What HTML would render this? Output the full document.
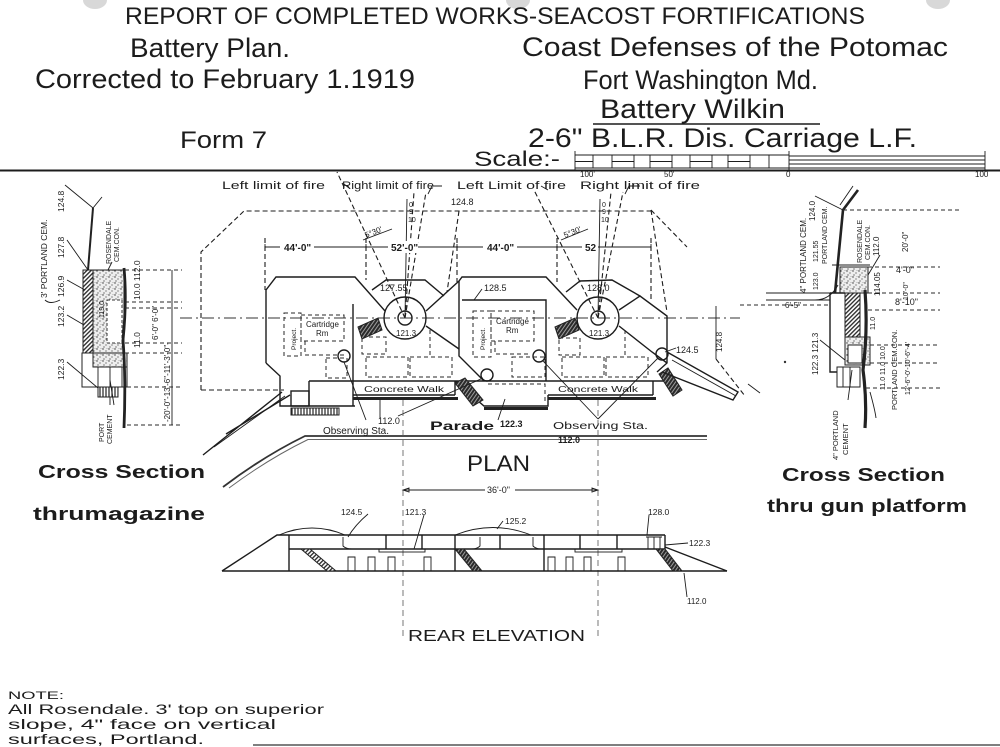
<!DOCTYPE html>
<html><head><meta charset="utf-8">
<style>
html,body{margin:0;padding:0;background:#fff;}
svg{display:block}
text{font-family:"Liberation Sans",sans-serif;fill:#1c1c1c}
.s{stroke:#1c1c1c;fill:none;stroke-width:1.4}
.t{stroke:#1c1c1c;fill:none;stroke-width:0.9}
.d{stroke:#1c1c1c;fill:none;stroke-width:1.1;stroke-dasharray:5 3}
.dd{stroke:#2a2a2a;fill:none;stroke-width:1;stroke-dasharray:4 3}
.k{stroke:#1c1c1c;fill:none;stroke-width:2.6}
</style></head><body>
<svg width="1000" height="747" viewBox="0 0 1000 747" xmlns="http://www.w3.org/2000/svg">
<defs>
<pattern id="hatch" width="3" height="3" patternUnits="userSpaceOnUse" patternTransform="rotate(45)"><rect width="3" height="3" fill="#fff"/><line x1="0.7" y1="0" x2="0.7" y2="3" stroke="#222" stroke-width="1.3"/></pattern>
<pattern id="dark" width="3" height="3" patternUnits="userSpaceOnUse" patternTransform="rotate(35)"><rect width="3" height="3" fill="#2a2a2a"/><line x1="1.5" y1="0" x2="1.5" y2="3" stroke="#bbb" stroke-width="0.8"/></pattern>
<pattern id="stip" width="6" height="6" patternUnits="userSpaceOnUse"><rect width="6" height="6" fill="#eee"/><circle cx="1" cy="1" r="0.7" fill="#333"/><circle cx="4" cy="3" r="0.6" fill="#444"/><circle cx="2" cy="5" r="0.6" fill="#333"/><circle cx="5" cy="0.5" r="0.4" fill="#555"/></pattern>
<pattern id="vl" width="3" height="10" patternUnits="userSpaceOnUse"><rect width="3" height="10" fill="#fff"/><line x1="1" y1="0" x2="1" y2="10" stroke="#222" stroke-width="1.2"/></pattern>
</defs>
<rect width="1000" height="747" fill="#fff"/>
<!-- punch holes -->
<ellipse cx="95" cy="0" rx="12" ry="9" fill="#d8d8d8"/>
<ellipse cx="518" cy="0" rx="12" ry="9" fill="#d8d8d8"/>
<ellipse cx="938" cy="0" rx="12" ry="9" fill="#d8d8d8"/>

<!-- HEADER -->
<text x="125" y="24" font-size="24" textLength="740" lengthAdjust="spacingAndGlyphs">REPORT OF COMPLETED WORKS-SEACOST FORTIFICATIONS</text>
<text x="130" y="57" font-size="27" textLength="160" lengthAdjust="spacingAndGlyphs">Battery Plan.</text>
<text x="35" y="88" font-size="27" textLength="380" lengthAdjust="spacingAndGlyphs">Corrected to February 1.1919</text>
<text x="522" y="56" font-size="27" textLength="426" lengthAdjust="spacingAndGlyphs">Coast Defenses of the Potomac</text>
<text x="583" y="89" font-size="27" textLength="235" lengthAdjust="spacingAndGlyphs">Fort Washington Md.</text>
<text x="600" y="118" font-size="27" textLength="185" lengthAdjust="spacingAndGlyphs">Battery Wilkin</text>
<line x1="593" y1="124" x2="820" y2="124" class="s" stroke-width="1.6"/>
<text x="180" y="148" font-size="24" textLength="87" lengthAdjust="spacingAndGlyphs">Form 7</text>
<text x="528" y="147" font-size="27" textLength="389" lengthAdjust="spacingAndGlyphs">2-6" B.L.R. Dis. Carriage L.F.</text>
<text x="474" y="166" font-size="21" textLength="86" lengthAdjust="spacingAndGlyphs">Scale:-</text>

<!-- scale bar -->
<g class="t" stroke-width="1">
<path d="M575,155 H789 M575,168 H789 M575,151 V170 M789,151 V170"/>
<path d="M575,161.5 H593 M612,161.5 H634 M650,161.5 H672 M690,161.5 H712 M728,161.5 H750"/>
<path d="M593,155 V168 M612,155 V168 M634,155 V168 M650,155 V168 M672,155 V168 M690,155 V168 M712,155 V168 M728,155 V168 M750,155 V168 M769,155 V168"/>
<path d="M789,156 H985 M789,160 H985 M789,164 H985 M789,168 H985 M985,151 V170"/>
</g>
<text x="580" y="177" font-size="8">100'</text>
<text x="664" y="177" font-size="8">50'</text>
<text x="786" y="177" font-size="8">0</text>
<text x="975" y="177" font-size="8">100</text>
<line x1="0" y1="170.5" x2="1000" y2="170.5" stroke="#1c1c1c" stroke-width="2"/>

<!-- ============ PLAN ============ -->
<!-- limit of fire labels -->
<text x="222" y="189" font-size="11" textLength="103" lengthAdjust="spacingAndGlyphs">Left limit of fire</text>
<text x="342" y="189" font-size="11" textLength="92" lengthAdjust="spacingAndGlyphs">Right limit of fire</text>
<text x="457" y="189" font-size="11" textLength="109" lengthAdjust="spacingAndGlyphs">Left Limit of fire</text>
<text x="580" y="189" font-size="11" textLength="120" lengthAdjust="spacingAndGlyphs">Right limit of fire</text>
<text x="451" y="205" font-size="9">124.8</text>

<!-- fire lines -->
<g class="d">
<path d="M405,318 L337,172"/>
<path d="M405,318 L426,192"/>
<path d="M405,318 L414,192"/>
<path d="M459,211 L447,292"/>
<path d="M598,318 L534,190"/>
<path d="M598,318 L623,192"/>
<path d="M598,318 L611,192"/>
</g>
<path class="t" d="M407,199 L405,318 M600,199 L598,318"/>
<path class="t" d="M428,194 L432,186 L442,186 M625,194 L629,186 L640,186 M344,184 L349,188 M541,186 L548,190"/>
<text x="409" y="207" font-size="7">0</text><text x="409" y="214" font-size="7">9</text><text x="408" y="222" font-size="7">10</text>
<text x="602" y="207" font-size="7">0</text><text x="602" y="214" font-size="7">9</text><text x="601" y="222" font-size="7">10</text>
<text x="366" y="238" font-size="8" transform="rotate(-22 366 238)">5°30'</text>
<text x="565" y="238" font-size="8" transform="rotate(-22 565 238)">5°30'</text>
<path class="t" d="M363,240 L392,229 M561,240 L588,229"/>

<!-- outer dashed envelope -->
<g class="d">
<path d="M201,390 L201,252 L244,211 L651,211"/>
<path d="M651,210 L687,247"/>
<path d="M651,210 L667,312"/>
<path d="M716,359 L745,396"/>
<path d="M201,390 L284,390"/>
<path d="M265,238 V290 M366,238 V280 M457,238 V282 M557,238 V282 M651,238 V300"/>
</g>
<!-- centerline -->
<path d="M180,318 H740" stroke="#333" stroke-width="0.9" stroke-dasharray="12 4 2 4" fill="none"/>

<!-- dimension line -->
<path class="t" d="M265,247 H651"/>
<path class="t" d="M265,244 V250 M366,244 V250 M457,244 V250 M557,244 V250 M651,244 V250"/>
<rect x="280" y="241" width="34" height="12" fill="#fff"/>
<rect x="388" y="241" width="30" height="12" fill="#fff"/>
<rect x="483" y="241" width="34" height="12" fill="#fff"/>
<rect x="582" y="241" width="16" height="12" fill="#fff"/>
<text x="284" y="251" font-size="10" font-weight="bold">44'-0"</text>
<text x="391" y="251" font-size="10" font-weight="bold">52'-0"</text>
<text x="487" y="251" font-size="10" font-weight="bold">44'-0"</text>
<text x="585" y="251" font-size="10" font-weight="bold">52</text>

<!-- main solid outlines -->
<g class="s">
<path d="M266,363 L266,290 L276,277 L355,277 L385,311"/>
<path d="M426,311 L459,281 L462,277 L546,277 L577,310"/>
<path d="M619,310 L640,296 L667,316 L667,363 L657,372"/>
<path d="M372,290 L386,280 L425,280 L444,296"/>
<path d="M566,292 L580,281 L612,280 L640,296"/>
<path d="M266,363 L280,376 L280,406 L355,406"/>
<path d="M309,381 V406 M309,381 H667 M353,304 V406"/>
<path d="M459,281 V356 L484,381"/>
<path d="M462,300 H546 V381"/>
<path d="M426,326 L459,349"/>
<path d="M619,326 L652,352 L667,363"/>
<path d="M455,381 L484,406 L548,406 L548,395"/>
<path d="M353,395 H455 M548,395 H653 M653,381 V395 M455,381 V395"/>
<circle cx="405" cy="318" r="21"/>
<circle cx="405" cy="318" r="7"/>
<circle cx="598" cy="318" r="21"/>
<circle cx="598" cy="318" r="7"/>
<circle cx="344" cy="356" r="6"/>
<circle cx="487" cy="375" r="6"/>
<circle cx="539" cy="356" r="6"/>
<circle cx="662" cy="354" r="6"/>
</g>
<rect x="291" y="391" width="18" height="15" class="s" fill="#fff"/>
<rect x="291" y="408" width="48" height="7" fill="url(#vl)" stroke="#222" stroke-width="1"/>
<path d="M353,398.5 H458 M548,398.5 H656 M484,408.5 H548" stroke="#222" stroke-width="3" fill="none"/>
<text x="364" y="392" font-size="8.5" textLength="80" lengthAdjust="spacingAndGlyphs">Concrete Walk</text>
<text x="558" y="392" font-size="8.5" textLength="80" lengthAdjust="spacingAndGlyphs">Concrete Walk</text>

<!-- dashed rooms -->
<g class="dd">
<rect x="284" y="313" width="17" height="43"/>
<rect x="301" y="315" width="43" height="26"/>
<path d="M305,341 V355 H345"/>
<rect x="326" y="358" width="21" height="20"/>
<rect x="362" y="337" width="24" height="17"/>
<rect x="366" y="357" width="42" height="20"/>
<rect x="410" y="357" width="42" height="20"/>
<rect x="473" y="311" width="18" height="46"/>
<rect x="491" y="311" width="43" height="30"/>
<path d="M495,341 V354 H530"/>
<rect x="512" y="357" width="33" height="20"/>
<rect x="559" y="338" width="21" height="17"/>
<rect x="562" y="357" width="42" height="20"/>
<rect x="606" y="357" width="42" height="20"/>
<path d="M488,384 H545 V404"/>
<path d="M430,330 V357 M625,330 V357"/>
</g>
<text x="306" y="327" font-size="8">Cartridge</text>
<text x="316" y="336" font-size="8">Rm</text>
<text x="496" y="324" font-size="8">Cartridge</text>
<text x="506" y="333" font-size="8">Rm</text>
<text x="296" y="350" font-size="6.5" transform="rotate(-90 296 350)">Project.</text>
<text x="485" y="350" font-size="6.5" transform="rotate(-90 485 350)">Project.</text>

<!-- stairs hatched -->
<polygon points="358,327 378,318 382,330 362,339" fill="url(#dark)" stroke="#222"/>
<polygon points="555,327 575,318 579,330 559,339" fill="url(#dark)" stroke="#222"/>
<polygon points="455,383 465,378 483,400 473,406" fill="url(#dark)" stroke="#222"/>
<polygon points="659,374 668,368 682,390 673,396" fill="url(#dark)" stroke="#222"/>
<!-- right ramp -->
<path class="s" d="M667,352 L738,392 L733,400 L662,372"/>
<path class="t" d="M672,360 L736,396"/>
<!-- left ramp and parade -->
<path class="s" d="M282,392 L203,455 M290,395 L226,434"/>
<path class="t" d="M285,396 L214,447"/>
<path d="M223,487 Q264,456 305,436 L707,436" stroke="#333" stroke-width="1.8" fill="none"/>
<path d="M229,488 Q268,459 308,439.5 L707,439.5" stroke="#666" stroke-width="1" fill="none"/>

<!-- right dim -->
<path class="t" d="M716,306 V359"/>
<text x="722" y="352" font-size="8" transform="rotate(-90 722 352)">124.8</text>
<text x="676" y="353" font-size="9">124.5</text>
<path class="t" d="M665,352 L676,348"/>

<!-- plan labels -->
<text x="380" y="291" font-size="9">127.55</text>
<text x="484" y="291" font-size="9">128.5</text>
<text x="587" y="291" font-size="9">128.0</text>
<text x="396" y="336" font-size="8">121.3</text>
<text x="589" y="336" font-size="8">121.3</text>
<path class="t" d="M482,289 L474,300 M602,284 L598,296"/>
<text x="378" y="424" font-size="9">112.0</text>
<text x="323" y="434" font-size="10" textLength="66" lengthAdjust="spacingAndGlyphs">Observing Sta.</text>
<text x="430" y="430" font-size="12" font-weight="bold" textLength="64" lengthAdjust="spacingAndGlyphs">Parade</text>
<text x="500" y="427" font-size="9" font-weight="bold">122.3</text>
<text x="553" y="429" font-size="10" textLength="95" lengthAdjust="spacingAndGlyphs">Observing Sta.</text>
<text x="558" y="443" font-size="9" font-weight="bold">112.0</text>
<g class="t">
<path d="M366,420 L344,362"/>
<path d="M380,418 V399"/>
<path d="M398,416 L483,378"/>
<path d="M498,420 L505,399"/>
<path d="M598,419 L543,361 M598,419 L658,358"/>
</g>
<text x="467" y="471" font-size="22" textLength="63" lengthAdjust="spacingAndGlyphs">PLAN</text>

<!-- center dashed verticals -->
<path d="M403,400 V640 M598,400 V640" stroke="#555" stroke-width="0.8" stroke-dasharray="6 4" fill="none"/>

<!-- ============ REAR ELEVATION ============ -->
<path class="t" d="M403,490 H598 M403,490 l6,-2 v4 z M598,490 l-6,-2 v4 z"/>
<rect x="485" y="484" width="30" height="11" fill="#fff"/>
<text x="487" y="493" font-size="9">36'-0"</text>
<g class="s">
<path d="M222,571 H727"/>
<path d="M222,571 L277,535 H665 M289,549 H665 M665,547 L727,571"/>
<path d="M289,535 V571 M455,535 V571 M544,535 V571 M665,535 V549"/>
<path d="M386,535 V549 M422,535 V549 M500,535 V549 M580,535 V549 M617,535 V549"/>
</g>
<path class="t" d="M279,535 Q312,521 345,535 M455,535 Q493,520 531,535"/>
<path class="t" d="M343,537 V546 Q346,549 352,549 M480,537 V546 Q477,549 472,549 M533,537 V546 Q536,549 541,549 M648,537 V549 M654,537 V549 M660,537 V549 M646,537 H662"/>
<g class="t" stroke-width="1.1">
<path d="M348,571 V557 H355 V571 M368,571 V557 H375 V571 M388,571 V557 H395 V571 M424,571 V557 H431 V571"/>
<path d="M548,571 V557 H555 V571 M566,571 V557 H573 V571 M584,571 V557 H591 V571 M618,571 V557 H625 V571"/>
</g>
<rect x="379" y="549" width="46" height="3" class="t"/>
<rect x="575" y="549" width="47" height="3" class="t"/>
<polygon points="301,549 310,549 336,571 327,571" fill="url(#hatch)" stroke="#222"/>
<polygon points="455,549 464,549 482,571 473,571" fill="url(#dark)" stroke="#222"/>
<polygon points="656,549 665,549 682,571 673,571" fill="url(#dark)" stroke="#222"/>
<text x="341" y="515" font-size="8.5">124.5</text>
<text x="405" y="515" font-size="8.5">121.3</text>
<text x="505" y="524" font-size="8.5">125.2</text>
<text x="648" y="515" font-size="8.5">128.0</text>
<text x="689" y="546" font-size="8.5">122.3</text>
<text x="687" y="604" font-size="8">112.0</text>
<path class="t" d="M368,514 Q355,525 348,537 M424,515 L414,549 M503,521 L497,529 M649,515 L647,535 M688,543 L665,545 M687,597 L684,573"/>
<text x="408" y="641" font-size="16" textLength="177" lengthAdjust="spacingAndGlyphs">REAR ELEVATION</text>

<!-- ============ LEFT CROSS SECTION ============ -->
<path class="t" d="M65,185 L93,208 L102,197"/>
<path d="M93,208 L88,270" stroke="#222" stroke-width="2" fill="none"/>
<rect x="83" y="270" width="10" height="83" fill="url(#hatch)" stroke="#222"/>
<rect x="93" y="270" width="31" height="83" fill="url(#stip)" stroke="#222"/>
<rect x="107" y="300" width="15" height="43" fill="#fff" stroke="#333" stroke-dasharray="3 2"/>
<rect x="82" y="353" width="45" height="34" fill="#fff" stroke="#222"/>
<rect x="93" y="353" width="34" height="14" fill="url(#stip)" stroke="#222"/>
<path class="t" d="M98,367 V387 M122,367 V387 M110,367 V405"/>
<rect x="98" y="387" width="20" height="10" fill="url(#vl)" stroke="#222"/>
<path d="M124,268 Q127,300 123,340 Q126,380 124,428" stroke="#222" stroke-width="2.8" fill="none"/>
<g class="dd">
<path d="M125,270 H182 M125,302 H182 M125,308 H182 M125,343 H182 M125,353 H182 M127,387 H182 M127,425 H182"/>
</g>
<path class="t" d="M172,270 V425"/>
<g font-size="8.5">
<text x="47" y="298" transform="rotate(-90 47 298)">3' PORTLAND CEM.</text>
<text x="64" y="212" transform="rotate(-90 64 212)">124.8</text>
<text x="64" y="258" transform="rotate(-90 64 258)">127.8</text>
<text x="64" y="297" transform="rotate(-90 64 297)">126.9</text>
<text x="64" y="327" transform="rotate(-90 64 327)">123.2</text>
<text x="64" y="380" transform="rotate(-90 64 380)">122.3</text>
<text x="111" y="264" transform="rotate(-90 111 264)" font-size="7">ROSENDALE</text>
<text x="119" y="262" transform="rotate(-90 119 262)" font-size="7">CEM.CON.</text>
<text x="140" y="300" transform="rotate(-90 140 300)">10.0 112.0</text>
<text x="140" y="348" transform="rotate(-90 140 348)">11.0</text>
<text x="104" y="318" transform="rotate(-90 104 318)" font-size="7">119.0</text>
<text x="158" y="340" transform="rotate(-90 158 340)" font-size="8">6'-0" 6'-0"</text>
<text x="170" y="422" transform="rotate(-90 170 422)" font-size="8">-20'-0"-13'-6"-11'-3'-0"-</text>
<text x="104" y="442" transform="rotate(-90 104 442)" font-size="7">PORT</text>
<text x="112" y="444" transform="rotate(-90 112 444)" font-size="7">CEMENT</text>
</g>
<path class="t" d="M67,240 L88,270 M67,280 L85,290 M67,315 L84,325 M67,362 L98,388 M60,300 Q50,305 45,300 M108,270 L112,262 M114,405 L110,380"/>
<text x="20" y="478" font-size="19" font-weight="bold" textLength="0" fill="none"></text>
<text x="38" y="478" font-size="18" font-weight="bold" textLength="167" lengthAdjust="spacingAndGlyphs">Cross Section</text>
<text x="33" y="520" font-size="18" font-weight="bold" textLength="172" lengthAdjust="spacingAndGlyphs">thrumagazine</text>

<!-- ============ RIGHT CROSS SECTION ============ -->
<path class="t" d="M815,196 L843,210 M853,186 L840,205"/>
<path d="M858,190 L843,210 L835,293" stroke="#222" stroke-width="2.6" fill="none"/>
<rect x="840" y="267" width="28" height="26" fill="url(#stip)" stroke="#222"/>
<path class="t" d="M832,265 H870"/>
<rect x="845" y="293" width="15" height="44" fill="url(#hatch)" stroke="#222"/>
<path class="s" d="M830,293 V372 H845 M830,293 H845"/>
<rect x="845" y="337" width="25" height="28" fill="url(#stip)" stroke="#222"/>
<rect x="848" y="345" width="14" height="18" fill="#fff" stroke="#222"/>
<rect x="837" y="367" width="23" height="20" fill="#fff" stroke="#222"/>
<path class="t" d="M843,367 V387 M850,367 V387"/>
<path d="M865,290 Q868,330 863,370 Q867,400 865,428" stroke="#222" stroke-width="3.2" fill="none"/>
<g class="dd">
<path d="M843,210 H960 M868,267 H940 M868,293 H940 M868,310 H940 M870,345 H940 M870,363 H940 M866,388 H940"/>
<path d="M740,305 H830"/>
</g>
<path class="t" d="M766,293 H830 M766,300 H830"/>
<g font-size="8">
<text x="806" y="293" transform="rotate(-90 806 293)">4" PORTLAND CEM.</text>
<text x="815" y="221" transform="rotate(-90 815 221)">124.0</text>
<text x="818" y="262" transform="rotate(-90 818 262)" font-size="7">121.55</text>
<text x="818" y="290" transform="rotate(-90 818 290)" font-size="7">123.0</text>
<text x="827" y="264" transform="rotate(-90 827 264)" font-size="7">PORTLAND CEM.</text>
<text x="862" y="263" transform="rotate(-90 862 263)" font-size="7">ROSENDALE</text>
<text x="870" y="260" transform="rotate(-90 870 260)" font-size="7">CEM.CON.</text>
<text x="879" y="256" transform="rotate(-90 879 256)">112.0</text>
<text x="880" y="296" transform="rotate(-90 880 296)">114.05</text>
<text x="908" y="252" transform="rotate(-90 908 252)">20'-0"</text>
<text x="896" y="273" font-size="9">4'-0"</text>
<text x="908" y="300" transform="rotate(-90 908 300)" font-size="7">10'-0"</text>
<text x="895" y="305" font-size="9">8'-10"</text>
<text x="818" y="375" transform="rotate(-90 818 375)">122.3 121.3</text>
<text x="785" y="308" font-size="8">6'-5"</text>
<text x="875" y="330" transform="rotate(-90 875 330)" font-size="7">11.0</text>
<text x="885" y="390" transform="rotate(-90 885 390)" font-size="7">11.0 11.0 10.0</text>
<text x="897" y="410" transform="rotate(-90 897 410)" font-size="7.5">PORTLAND CEM.CON.</text>
<text x="910" y="395" transform="rotate(-90 910 395)" font-size="7">12'-6"-0'-10'-6"-4'</text>
<text x="838" y="460" transform="rotate(-90 838 460)" font-size="7.5">4" PORTLAND</text>
<text x="848" y="455" transform="rotate(-90 848 455)" font-size="7.5">CEMENT</text>
</g>
<path class="t" d="M820,340 L845,360 M815,300 Q830,300 838,285 M848,400 L852,370 M880,255 L868,275 M870,392 Q875,410 876,418"/>
<path class="t" d="M748,384 L760,393"/>
<circle cx="785" cy="362" r="1.2" fill="#333"/>
<text x="782" y="481" font-size="18" font-weight="bold" textLength="163" lengthAdjust="spacingAndGlyphs">Cross Section</text>
<text x="767" y="512" font-size="18" font-weight="bold" textLength="200" lengthAdjust="spacingAndGlyphs">thru gun platform</text>

<!-- NOTE -->
<text x="8" y="699" font-size="11" textLength="56" lengthAdjust="spacingAndGlyphs">NOTE:</text>
<text x="8" y="714" font-size="14" textLength="316" lengthAdjust="spacingAndGlyphs">All Rosendale. 3' top on superior</text>
<text x="8" y="729" font-size="14" textLength="268" lengthAdjust="spacingAndGlyphs">slope, 4" face on vertical</text>
<text x="8" y="744" font-size="14" textLength="196" lengthAdjust="spacingAndGlyphs">surfaces, Portland.</text>
<line x1="253" y1="745" x2="1000" y2="745" stroke="#333" stroke-width="1.2"/>
</svg>
</body></html>
